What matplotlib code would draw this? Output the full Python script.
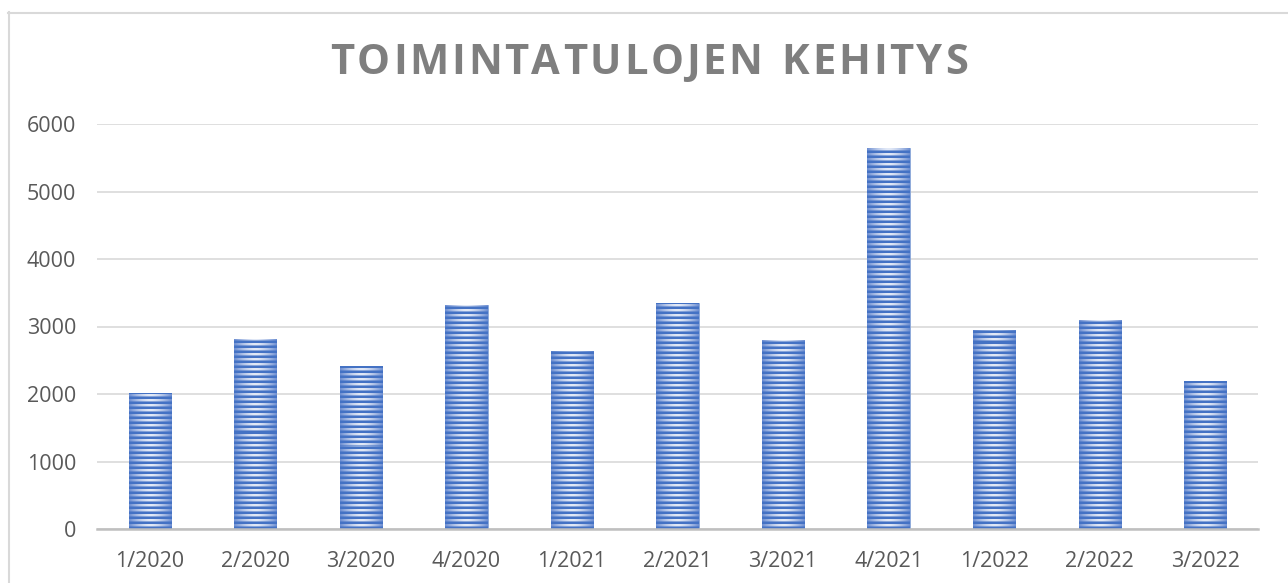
import matplotlib
matplotlib.use("Agg")
import matplotlib.pyplot as plt
import numpy as np
from matplotlib.lines import Line2D

categories = ["1/2020", "2/2020", "3/2020", "4/2020", "1/2021", "2/2021",
              "3/2021", "4/2021", "1/2022", "2/2022", "3/2022"]
values = [2010, 2815, 2415, 3315, 2630, 3345, 2795, 5645, 2955, 3095, 2195]
yticks = [0, 1000, 2000, 3000, 4000, 5000, 6000]
title = "TOIMINTATULOJEN KEHITYS"

W, H = 1288, 583
fig = plt.figure(figsize=(W / 100, H / 100), dpi=100)
ax = fig.add_axes([97 / W, (H - 529) / H, (1258 - 97) / W, (529 - 124) / H])

x = np.arange(len(categories))
bars = ax.bar(x, values, width=0.4, color="#4472c4", edgecolor="#8eaadb", linewidth=0.6, zorder=2)

# striped gradient texture for each bar
nrows = 405
ncols = 42
dark = np.array([0x44, 0x72, 0xc4]) / 255
light_c = np.array([0xe2, 0xe9, 0xf7]) / 255
light_e = np.array([0x6e, 0x8f, 0xd2]) / 255
cols = np.linspace(-1, 1, ncols)
g = np.clip(1 - np.abs(cols) ** 1.5, 0, 1)[:, None]
light_row = light_e * (1 - g) + light_c * g
mid_row = dark * 0.55 + light_row * 0.45
pattern = ["d", "d", "m", "l", "l"]
img = np.zeros((nrows, ncols, 3))
for r in range(nrows):
    k = pattern[r % len(pattern)]
    if k == "d":
        img[r] = dark
    elif k == "m":
        img[r] = mid_row
    else:
        img[r] = light_row
for b in bars:
    im = ax.imshow(img, extent=(b.get_x(), b.get_x() + b.get_width(), 0, 6000),
                   origin="lower", aspect="auto", interpolation="nearest", zorder=2.5)
    im.set_clip_path(b)

ax.set_xlim(-0.5, len(categories) - 0.5)
ax.set_ylim(0, 6000)
ax.set_yticks(yticks)
ax.set_yticklabels([str(t) for t in yticks])
ax.set_xticks(x)
ax.set_xticklabels(categories)
ax.yaxis.grid(True, color="#d9d9d9", linewidth=1.2, zorder=0)
ax.set_axisbelow(True)
for s in ["top", "right", "left"]:
    ax.spines[s].set_visible(False)
ax.spines["bottom"].set_color("#bfbfbf")
ax.spines["bottom"].set_linewidth(1.8)
ax.spines["bottom"].set_zorder(3)
ax.tick_params(axis="both", length=0, labelsize=15.5, labelcolor="#595959")
ax.tick_params(axis="y", pad=15)
ax.tick_params(axis="x", pad=16)
for lab in ax.get_xticklabels() + ax.get_yticklabels():
    lab.set_fontfamily("Open Sans")

# letter-spaced title
renderer = fig.canvas.get_renderer()
fs = 30
widths = []
chars = list(title)
for c in chars:
    t = fig.text(0, 0, c if c != " " else "n", fontsize=fs, fontweight="bold",
                 fontfamily="Open Sans")
    bb = t.get_window_extent(renderer)
    widths.append(bb.width * (0.5 if c == " " else 1.0))
    t.remove()
target_w = 968 - 330
track = (target_w - sum(widths)) / (len(chars) - 1)
xpos = 330.0
for c, w in zip(chars, widths):
    if c != " ":
        fig.text(xpos / W, 1 - 63 / H, c, ha="left", va="center", fontsize=fs,
                 fontweight="bold", color="#7f7f7f", fontfamily="Open Sans")
    xpos += w + track

# chart border (left and top edges)
fig.add_artist(Line2D([8.5 / W, 8.5 / W], [0, 1 - 12 / H], transform=fig.transFigure,
                      color="#d9d9d9", linewidth=1.5))
fig.add_artist(Line2D([8 / W, 1], [1 - 12.5 / H, 1 - 12.5 / H], transform=fig.transFigure,
                      color="#d9d9d9", linewidth=1.5))

fig.savefig("out.png", dpi=100, facecolor="white")
